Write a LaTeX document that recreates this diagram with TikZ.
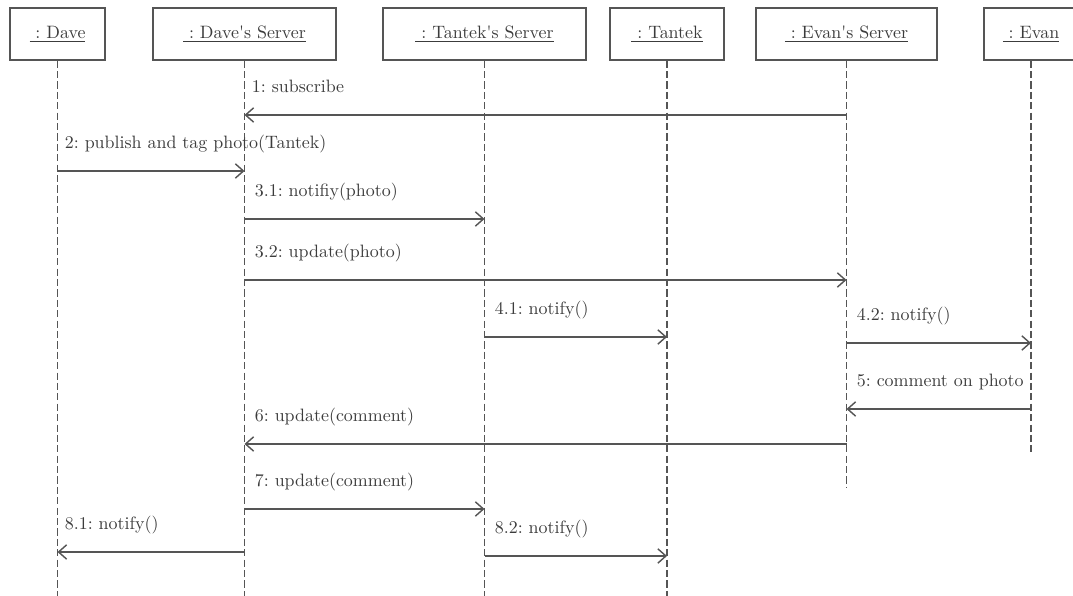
\documentclass[tikz,border=0pt]{standalone}
\usetikzlibrary{arrows.meta,calc}
\definecolor{ink}{RGB}{85,85,85}
\definecolor{txt}{RGB}{60,60,60}
\frenchspacing
% underlined object name with a slightly heavier rule
\newcommand\objname[1]{\setbox0\hbox{~: #1}\rlap{\rule[-2.3pt]{\wd0}{0.65pt}}\box0}
\begin{document}
\begin{tikzpicture}[x=0.558pt,y=-0.558pt,
  actor/.style={draw=ink, line width=0.8pt, minimum height=52*0.558pt, text=txt, inner sep=0pt},
  life/.style={draw=ink, line width=0.8pt, dash pattern=on 4pt off 1.8pt},
  msg/.style={draw=ink, line width=0.8pt, -{Straight Barb[length=4.5pt,width=8pt]}},
  lbl/.style={text=txt, anchor=base west, inner sep=0pt}]
\useasboundingbox (0,0) rectangle (1073,596);

% participants
\node[actor, minimum width=95*0.558pt]  (Dave) at (57.5,34)  {\objname{Dave}};
\node[actor, minimum width=183*0.558pt] (DS)   at (244.5,34) {\objname{Dave\textquotesingle s Server}};
\node[actor, minimum width=203*0.558pt] (TS)   at (484.5,34) {\objname{Tantek\textquotesingle s Server}};
\node[actor, minimum width=114*0.558pt] (T)    at (667,34)   {\objname{Tantek}};
\node[actor, minimum width=181*0.558pt] (ES)   at (846.5,34) {\objname{Evan\textquotesingle s Server}};
\node[actor, minimum width=94*0.558pt]  (E)    at (1031,34)  {\objname{Evan}};

% lifeline ends
\coordinate (bot)  at (0,596);
\coordinate (botES) at (0,488);
\coordinate (botE) at (0,453);
\draw[life] (Dave.south) -- (Dave.south |- bot);
\draw[life] (DS.south) -- (DS.south |- bot);
\draw[life] (TS.south) -- (TS.south |- bot);
\draw[life] (T.south) -- (T.south |- bot);
\draw[life] (ES.south) -- (ES.south |- botES);
\draw[life] (E.south) -- (E.south |- botE);

% message rows
\coordinate (y1) at (0,115);
\coordinate (y2) at (0,171);
\coordinate (y31) at (0,219);
\coordinate (y32) at (0,280);
\coordinate (y41) at (0,337);
\coordinate (y42) at (0,343);
\coordinate (y5) at (0,409);
\coordinate (y6) at (0,444);
\coordinate (y7) at (0,509);
\coordinate (y81) at (0,552);
\coordinate (y82) at (0,556);

% 1
\coordinate (m1a) at (ES.south |- y1); \coordinate (m1b) at (DS.south |- y1);
\draw[msg] (m1a) -- (m1b);
\node[lbl] (l1) at ($(m1b)+(7,-22)$) {1: subscribe};
% 2
\coordinate (m2a) at (Dave.south |- y2); \coordinate (m2b) at (DS.south |- y2);
\draw[msg] (m2a) -- (m2b);
\node[lbl] (l2) at ($(m2a)+(7,-22)$) {2: publish and tag photo(Tantek)};
% 3.1
\coordinate (m31a) at (DS.south |- y31); \coordinate (m31b) at (TS.south |- y31);
\draw[msg] (m31a) -- (m31b);
\node[lbl] (l31) at ($(m31a)+(10,-22)$) {3.1: notifiy(photo)};
% 3.2
\coordinate (m32a) at (DS.south |- y32); \coordinate (m32b) at (ES.south |- y32);
\draw[msg] (m32a) -- (m32b);
\node[lbl] (l32) at ($(m32a)+(10,-22)$) {3.2: update(photo)};
% 4.1
\coordinate (m41a) at (TS.south |- y41); \coordinate (m41b) at (T.south |- y41);
\draw[msg] (m41a) -- (m41b);
\node[lbl] (l41) at ($(m41a)+(10,-22)$) {4.1: notify()};
% 4.2
\coordinate (m42a) at (ES.south |- y42); \coordinate (m42b) at (E.south |- y42);
\draw[msg] (m42a) -- (m42b);
\node[lbl] (l42) at ($(m42a)+(10,-22)$) {4.2: notify()};
% 5
\coordinate (m5a) at (E.south |- y5); \coordinate (m5b) at (ES.south |- y5);
\draw[msg] (m5a) -- (m5b);
\node[lbl] (l5) at ($(m5b)+(10,-22)$) {5: comment on photo};
% 6
\coordinate (m6a) at (ES.south |- y6); \coordinate (m6b) at (DS.south |- y6);
\draw[msg] (m6a) -- (m6b);
\node[lbl] (l6) at ($(m6b)+(10,-22)$) {6: update(comment)};
% 7
\coordinate (m7a) at (DS.south |- y7); \coordinate (m7b) at (TS.south |- y7);
\draw[msg] (m7a) -- (m7b);
\node[lbl] (l7) at ($(m7a)+(10,-22)$) {7: update(comment)};
% 8.1
\coordinate (m81a) at (DS.south |- y81); \coordinate (m81b) at (Dave.south |- y81);
\draw[msg] (m81a) -- (m81b);
\node[lbl] (l81) at ($(m81b)+(7,-22)$) {8.1: notify()};
% 8.2
\coordinate (m82a) at (TS.south |- y82); \coordinate (m82b) at (T.south |- y82);
\draw[msg] (m82a) -- (m82b);
\node[lbl] (l82) at ($(m82a)+(10,-22)$) {8.2: notify()};
\end{tikzpicture}
\end{document}
